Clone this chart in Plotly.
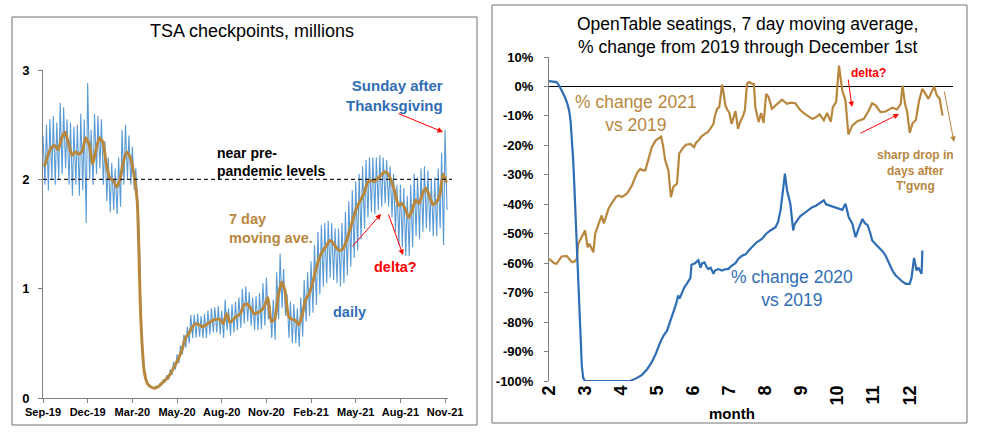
import pandas as pd
import plotly.graph_objects as go

W, H = 981, 438

# ---------------- TSA checkpoint data (millions), weekly readings from Sunday 2019-09-01
tsa_start = "2019-09-01"
tsa_ma_weekly = [
    2.12, 2.22, 2.29, 2.31, 2.27, 2.38, 2.43, 2.33, 2.22, 2.25,
    2.23, 2.26, 2.38, 2.32, 2.14, 2.27, 2.38, 2.34, 2.14, 2.01,
    1.99, 1.93, 2.00, 2.17, 2.25, 2.20, 2.05, 1.80, 0.75, 0.25,
    0.13, 0.10, 0.09, 0.10, 0.13, 0.16, 0.19, 0.24, 0.30, 0.36,
    0.44, 0.55, 0.59, 0.65, 0.68, 0.67, 0.65, 0.67, 0.69, 0.71,
    0.72, 0.72, 0.68, 0.77, 0.69, 0.72, 0.75, 0.77, 0.85, 0.86,
    0.82, 0.77, 0.78, 0.80, 0.84, 0.92, 0.70, 0.72, 0.93, 1.06,
    0.98, 0.75, 0.72, 0.71, 0.67, 0.76, 0.90, 0.95, 1.05, 1.18,
    1.28, 1.35, 1.39, 1.44, 1.42, 1.37, 1.35, 1.37, 1.45, 1.55,
    1.66, 1.75, 1.81, 1.87, 1.97, 1.99, 1.98, 2.01, 2.04, 2.07,
    2.05, 1.98, 1.88, 1.76, 1.78, 1.73, 1.65, 1.72, 1.81, 1.78,
    1.87, 1.92, 1.85, 1.77, 1.79, 1.85, 2.05, 1.97,
]
tsa_daily_hi = [
    2.40, 2.50, 2.55, 2.58, 2.52, 2.70, 2.66, 2.55, 2.52, 2.48,
    2.50, 2.60, 2.55, 2.88, 2.45, 2.60, 2.58, 2.55, 2.35, 2.20,
    2.15, 2.10, 2.20, 2.45, 2.50, 2.40, 2.30, 2.10, 1.52, 0.45,
    0.18, 0.12, 0.09, 0.11, 0.13, 0.17, 0.21, 0.26, 0.33, 0.40,
    0.48, 0.58, 0.65, 0.76, 0.76, 0.77, 0.75, 0.77, 0.80, 0.82,
    0.83, 0.84, 0.80, 0.90, 0.82, 0.86, 0.88, 0.92, 1.00, 1.02,
    0.97, 0.92, 0.93, 0.96, 1.05, 1.10, 0.85, 0.90, 1.15, 1.32,
    1.18, 0.95, 0.88, 0.86, 0.82, 0.92, 1.08, 1.15, 1.25, 1.40,
    1.52, 1.58, 1.60, 1.62, 1.60, 1.55, 1.55, 1.60, 1.70, 1.80,
    1.90, 1.98, 2.05, 2.12, 2.18, 2.20, 2.20, 2.20, 2.22, 2.20,
    2.18, 2.12, 2.05, 1.95, 1.95, 1.92, 1.85, 1.95, 2.05, 2.02,
    2.10, 2.12, 2.08, 2.00, 2.02, 2.10, 2.24, 2.45,
]
tsa_daily_lo = [
    1.95, 1.90, 2.00, 1.95, 2.00, 2.05, 2.10, 1.95, 1.85, 1.95,
    1.85, 1.90, 1.60, 2.00, 1.95, 2.05, 2.10, 1.95, 1.80, 1.70,
    1.72, 1.68, 1.75, 1.95, 2.00, 1.95, 1.90, 1.80, 0.62, 0.20,
    0.13, 0.10, 0.10, 0.10, 0.12, 0.14, 0.17, 0.21, 0.26, 0.32,
    0.40, 0.46, 0.50, 0.55, 0.55, 0.56, 0.55, 0.55, 0.58, 0.60,
    0.60, 0.58, 0.55, 0.62, 0.57, 0.60, 0.62, 0.64, 0.68, 0.70,
    0.66, 0.62, 0.62, 0.63, 0.66, 0.72, 0.55, 0.53, 0.72, 0.82,
    0.75, 0.55, 0.50, 0.50, 0.47, 0.56, 0.70, 0.75, 0.78, 0.85,
    0.95, 1.02, 1.05, 1.10, 1.08, 1.05, 1.02, 1.05, 1.12, 1.20,
    1.28, 1.35, 1.45, 1.55, 1.65, 1.70, 1.68, 1.72, 1.75, 1.78,
    1.75, 1.65, 1.52, 1.40, 1.38, 1.30, 1.30, 1.38, 1.48, 1.45,
    1.52, 1.55, 1.52, 1.48, 1.48, 1.55, 1.40, 1.72,
]
tsa_tick_labels = ["Sep-19", "Dec-19", "Mar-20", "May-20", "Aug-20",
                   "Nov-20", "Feb-21", "May-21", "Aug-21", "Nov-21"]
tsa_yticks = [0, 1, 2, 3]
tsa_reference_level = 2

# ---------------- OpenTable data (% change vs 2019, by month)
ot2020_month = [
    2.00, 2.10, 2.21, 2.28, 2.36, 2.44, 2.50, 2.56, 2.60, 2.63, 2.67, 2.70,
    2.74, 2.77, 2.81, 2.84, 2.88, 2.91, 2.95, 3.00, 4.25, 4.40, 4.57, 4.72,
    4.85, 4.97, 5.08, 5.18, 5.27, 5.36, 5.45, 5.52, 5.58, 5.62, 5.69, 5.76,
    5.82, 5.88, 5.92, 5.95, 6.05, 6.14, 6.20, 6.25, 6.31, 6.38, 6.42, 6.48,
    6.56, 6.60, 6.69, 6.80, 6.90, 6.97, 7.05, 7.17, 7.25, 7.35, 7.45, 7.55,
    7.63, 7.75, 7.91, 8.02, 8.14, 8.28, 8.35, 8.42, 8.48, 8.54, 8.60, 8.69,
    8.77, 8.80, 8.88, 8.97, 9.06, 9.18, 9.30, 9.40, 9.48, 9.55, 9.62, 9.68,
    9.80, 9.94, 10.05, 10.13, 10.22, 10.31, 10.41, 10.50, 10.59, 10.69, 10.76, 10.83,
    10.90, 10.96, 11.05, 11.15, 11.25, 11.33, 11.42, 11.52, 11.60, 11.70, 11.80, 11.89,
    12.00, 12.05, 12.12, 12.19, 12.24, 12.28, 12.33, 12.35,
]
ot2020_pct = [
    1.8, 1.6, 1.5, 0.3, -1.5, -3.6, -5.5, -8.2, -12, -17, -25, -33,
    -45, -56, -67, -78, -88, -95, -99, -100, -100, -99.2, -98, -96,
    -93.6, -90.5, -87, -84.5, -83, -80, -77, -74, -71, -72, -70, -68,
    -67, -65.5, -65, -60.5, -60, -59, -61.5, -60, -59.7, -61.5, -62, -61.5,
    -63.6, -62.5, -62, -62.5, -62, -62, -61, -60, -58.5, -57.5, -57, -55.5,
    -54.6, -53, -51.7, -50, -48.9, -47.8, -46, -42, -36, -29.6, -35.3, -39.8,
    -48.9, -47, -45.5, -44, -43.2, -42, -41, -40.5, -39.8, -39, -38.7, -40,
    -40.5, -41, -41.5, -41.9, -39.8, -44.4, -46.6, -51.2, -48, -45, -46.5, -47,
    -49.5, -52.3, -53.5, -54.6, -56, -57.4, -60, -62.5, -64, -65.3, -66.3, -67,
    -67, -65, -58.2, -62.5, -61.5, -62.5, -63.6, -55.7,
]
ot2021_month = [
    2.00, 2.07, 2.14, 2.21, 2.28, 2.35, 2.49, 2.56, 2.63, 2.70, 2.77, 2.81,
    2.90, 3.00, 3.07, 3.12, 3.18, 3.23, 3.28, 3.37, 3.46, 3.52, 3.58, 3.65,
    3.72, 3.79, 3.86, 3.93, 4.02, 4.09, 4.16, 4.23, 4.30, 4.39, 4.46, 4.53,
    4.60, 4.67, 4.76, 4.85, 4.96, 5.05, 5.11, 5.16, 5.22, 5.31, 5.38, 5.45,
    5.55, 5.61, 5.73, 5.80, 5.92, 6.02, 6.08, 6.15, 6.22, 6.33, 6.40, 6.47,
    6.56, 6.60, 6.66, 6.72, 6.80, 6.85, 6.89, 6.95, 7.00, 7.06, 7.13, 7.17,
    7.24, 7.30, 7.38, 7.43, 7.49, 7.54, 7.62, 7.68, 7.72, 7.81, 7.88, 7.95,
    8.02, 8.09, 8.18, 8.32, 8.46, 8.60, 8.70, 8.83, 8.97, 9.11, 9.30, 9.40,
    9.50, 9.62, 9.71, 9.81, 9.87, 9.96, 10.00, 10.04, 10.13, 10.22, 10.30, 10.41,
    10.55, 10.73, 10.80, 10.87, 10.96, 11.05, 11.19, 11.33, 11.52, 11.65, 11.75, 11.80,
    11.87, 11.93, 12.00, 12.08, 12.17, 12.26, 12.35, 12.44, 12.52, 12.60, 12.68, 12.75,
    12.83, 12.91,
]
ot2021_pct = [
    -58.5, -59.3, -60, -60.2, -59, -57.7, -57.5, -58.5, -59.6, -59.5, -58.5, -53.4,
    -51, -48.9, -54.6, -53.4, -55, -56.3, -50, -47.2, -43.8, -46.5, -44, -41.5,
    -40, -38.7, -37.5, -37, -37.5, -37, -36.4, -35, -33.6, -30.8, -29, -28,
    -28.5, -28.5, -24.6, -20.6, -18.3, -17.5, -17, -20, -25, -28.5, -37.6, -34,
    -33, -22.8, -20.6, -19.8, -19.5, -20.6, -19, -18.3, -17, -16, -15.5, -14.4,
    -12.7, -10, -7.6, -7, 0.7, -3, -6.5, -8, -9, -12.7, -10, -8.4,
    -14.4, -12, -10, -8, 0.9, 1.5, 1, 0.8, -7, -12.1, -9, -12.4,
    -2.5, -3.7, -7.6, -5.9, -4.5, -5.9, -5.5, -5.7, -8.1, -9.5, -11, -10.5,
    -9.5, -11.5, -9, -12, -7, -5.3, 0, 7.1, -1.4, -4.8, -16.3, -13.2,
    -11.8, -11, -9.5, -8.1, -5.7, -6.3, -8.7, -8.5, -7.2, -7.8, -5.9, 0.3,
    -5.9, -8.7, -15.8, -12.5, -11.4, -4.8, -0.8, -2.5, -4.2, -2, 0, -3,
    -4.2, -9.9,
]
ot_yticks = list(range(-100, 11, 10))
ot_xticks = list(range(2, 13))

# ---------------- colours / fonts
BLUE_LIGHT = "#5B9BD5"
BLUE_DARK = "#2F6DB5"
BROWN = "#B8873E"
RED = "#FF0000"
AXIS_GREY = "#808080"
FONT = "Liberation Sans, Arial, sans-serif"

# ---------------- build series
weeks = pd.date_range(tsa_start, periods=len(tsa_ma_weekly), freq="7D")
ma_x = weeks + pd.Timedelta(days=3)
daily_x, daily_y = [], []
for d, hi, lo in zip(weeks, tsa_daily_hi, tsa_daily_lo):
    daily_x += [d, d + pd.Timedelta(days=4)]
    daily_y += [hi, lo]
tick_dates = pd.date_range(tsa_start, periods=len(tsa_tick_labels), freq="91D")

fig = go.Figure()
fig.add_trace(go.Scatter(x=daily_x, y=daily_y, mode="lines",
                         line=dict(color=BLUE_LIGHT, width=1.1),
                         xaxis="x", yaxis="y", hoverinfo="skip"))
fig.add_trace(go.Scatter(x=ma_x, y=tsa_ma_weekly, mode="lines",
                         line=dict(color=BROWN, width=3, shape="spline", smoothing=0.5),
                         xaxis="x", yaxis="y"))
fig.add_trace(go.Scatter(x=ot2021_month, y=ot2021_pct, mode="lines",
                         line=dict(color=BROWN, width=2.2),
                         xaxis="x2", yaxis="y2"))
fig.add_trace(go.Scatter(x=ot2020_month, y=ot2020_pct, mode="lines",
                         line=dict(color=BLUE_DARK, width=2.2),
                         xaxis="x2", yaxis="y2"))


def px(x):
    return x / W


def py(y):
    return 1 - y / H


anns = []


def txt(x, y, lines, size, color, bold=False, xanchor="center"):
    anns.append(dict(x=px(x), y=py(y), xref="paper", yref="paper",
                     text="<br>".join(lines), align=xanchor,
                     showarrow=False, xanchor=xanchor, yanchor="middle",
                     font=dict(family=FONT, size=size, color=color,
                               weight="bold" if bold else "normal")))


def arrow(x0, y0, x1, y1, color):
    anns.append(dict(x=px(x1), y=py(y1), xref="paper", yref="paper", text="",
                     ax=x0 - x1, ay=y0 - y1, axref="pixel", ayref="pixel",
                     showarrow=True, arrowhead=2, arrowsize=1.1, arrowwidth=1,
                     arrowcolor=color, standoff=0))


# left panel texts
txt(252, 31, ["TSA checkpoints, millions"], 18, "black")
txt(445, 95.5, ["Sunday after", "Thanksgiving"], 15, BLUE_DARK, True, "right")
txt(215, 162, ["near pre-", "pandemic levels"], 14, "black", True, "left")
txt(227, 228, ["7 day", "moving ave."], 14.5, BROWN, True, "left")
txt(395, 267, ["delta?"], 14.5, RED, True)
txt(349, 312, ["daily"], 14.5, BLUE_DARK, True)
arrow(397, 113, 443, 132, RED)
arrow(351, 248, 381, 214, RED)
arrow(388, 213, 403, 255, RED)

# right panel texts
txt(747, 35, ["OpenTable seatings, 7 day moving average,",
              "% change from 2019 through December 1st"], 17.5, "black")
txt(636, 114, ["% change 2021", "vs 2019"], 17.5, BROWN)
txt(792, 288, ["% change 2020", "vs 2019"], 17.5, BLUE_DARK)
txt(868, 73, ["delta?"], 12, RED, True)
txt(915, 170.5, ["sharp drop in", "days after", "T'gvng"], 12, BROWN, True)
txt(732, 413, ["month"], 15, "black", True)
arrow(848, 78, 852, 107, RED)
arrow(859, 134, 899, 114, RED)
arrow(944, 90, 954, 142, BROWN)

shapes = [
    dict(type="rect", xref="paper", yref="paper", x0=px(12), x1=px(477),
         y0=py(425), y1=py(17), line=dict(color="#707070", width=1)),
    dict(type="rect", xref="paper", yref="paper", x0=px(492), x1=px(967),
         y0=py(423), y1=py(5), line=dict(color="#707070", width=1)),
    dict(type="line", xref="paper", yref="y", x0=px(43), x1=px(452),
         y0=tsa_reference_level, y1=tsa_reference_level,
         line=dict(color="#222222", width=1.2, dash="4px,3px")),
]

fig.update_layout(
    width=W, height=H, autosize=False,
    margin=dict(l=0, r=0, t=0, b=0, pad=0),
    paper_bgcolor="white", plot_bgcolor="white",
    showlegend=False, hovermode=False,
    font=dict(family=FONT, color="black"),
    annotations=anns, shapes=shapes,
    xaxis=dict(domain=[px(43), px(448)], anchor="y", type="date", automargin=False,
               range=["2019-09-01", "2021-12-04"],
               tickvals=list(tick_dates), ticktext=tsa_tick_labels, tickangle=0,
               showline=True, linecolor=AXIS_GREY, linewidth=1,
               ticks="outside", ticklen=4, tickcolor=AXIS_GREY,
               tickfont=dict(family=FONT, size=11, color="black", weight="bold"),
               showgrid=False, zeroline=False),
    yaxis=dict(domain=[py(398), py(70)], anchor="x", range=[0, 3], automargin=False,
               tickvals=tsa_yticks, ticktext=[str(v) for v in tsa_yticks],
               showline=True, linecolor=AXIS_GREY, linewidth=1,
               ticks="outside", ticklen=4, tickcolor=AXIS_GREY,
               ticklabelstandoff=6,
               tickfont=dict(family=FONT, size=13, color="black", weight="bold"),
               showgrid=False, zeroline=False),
    xaxis2=dict(domain=[px(549), px(953)], anchor="y2", range=[2, 13.2], automargin=False,
                tickvals=ot_xticks, ticktext=[str(v) for v in ot_xticks],
                tickangle=-90, showline=False, ticks="",
                tickfont=dict(family=FONT, size=18, color="black", weight="bold"),
                showgrid=False, zeroline=False),
    yaxis2=dict(domain=[py(381), py(57)], anchor="x2", range=[-100, 10], automargin=False,
                tickvals=ot_yticks, ticktext=[f"{v}%" for v in ot_yticks],
                showline=True, linecolor=AXIS_GREY, linewidth=1,
                ticks="outside", ticklen=4, tickcolor=AXIS_GREY,
                ticklabelstandoff=8,
                tickfont=dict(family=FONT, size=13, color="black", weight="bold"),
                showgrid=False, zeroline=True, zerolinecolor="black", zerolinewidth=1),
)

fig.write_html("out.html",
               config={"displayModeBar": False},
               post_script="document.body.style.margin='0px';document.body.style.padding='0px';")
